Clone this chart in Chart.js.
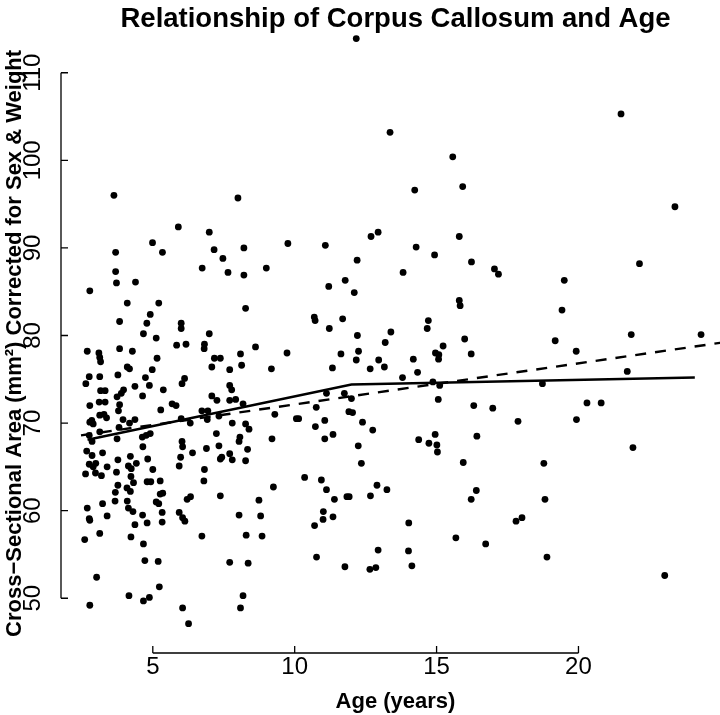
<!DOCTYPE html>
<html>
<head>
<meta charset="utf-8">
<script src="https://cdn.jsdelivr.net/npm/chart.js@4"></script>
<style>
  html, body { margin: 0; padding: 0; background: #fff; overflow: hidden; width: 720px; height: 715px; }
</style>
</head>
<body>
<!-- the original plot region runs a little past the right edge of the image,
     so the canvas is 14px wider than the window and gets cropped -->
<canvas id="ccChart" width="734" height="715"></canvas>
<script>
// Age (years) and corpus callosum area (mm^2)
const ages = [
  4.10, 5.21, 4.91, 3.83, 4.79, 4.67, 5.12, 2.69, 3.10, 3.13, 3.16, 3.83, 4.28, 5.15, 4.10, 4.18,
  4.98, 3.77, 3.13, 2.76, 4.74, 2.64, 4.37, 4.88, 5.37, 3.16, 3.32, 3.97, 3.89, 3.74, 4.64, 3.11,
  3.32, 2.78, 3.83, 3.79, 5.28, 5.68, 5.82, 3.13, 3.28, 3.37, 2.85, 2.90, 2.78, 3.95, 4.18, 4.37,
  3.81, 3.13, 2.76, 3.74, 4.63, 4.77, 4.91, 2.86, 2.67, 2.86, 3.23, 3.77, 4.21, 4.82, 4.65, 2.76,
  2.90, 2.99, 2.98, 3.19, 3.39, 2.63, 3.72, 4.14, 4.24, 4.42, 5.00, 4.23, 4.32, 3.77, 3.68, 4.09,
  4.21, 4.80, 4.93, 5.26, 5.35, 5.26, 3.67, 4.10, 5.12, 5.21, 3.23, 2.69, 4.14, 4.30, 3.39, 2.76,
  2.78, 4.64, 4.80, 4.37, 5.33, 5.33, 3.13, 2.60, 4.23, 4.67, 4.72, 5.19, 3.02, 5.23, 4.16, 4.88,
  4.67, 2.78, 6.00, 6.00, 6.17, 5.84, 6.82, 6.81, 6.99, 7.17, 7.38, 7.08, 7.71, 8.09, 8.13, 8.27,
  8.62, 9.73, 9.18, 6.12, 6.03, 7.71, 7.78, 7.08, 7.26, 7.71, 7.92, 8.18, 6.73, 6.94, 6.00, 6.32,
  6.92, 7.33, 7.80, 8.27, 8.39, 9.30, 10.06, 9.20, 7.24, 7.33, 8.07, 8.04, 8.34, 6.89, 6.03, 6.05,
  6.40, 5.98, 5.93, 7.38, 7.43, 7.71, 7.80, 8.27, 6.82, 6.80, 10.35, 9.25, 7.38, 6.33, 6.21, 8.74,
  8.80, 8.04, 5.93, 6.05, 6.13, 6.73, 8.29, 8.85, 7.71, 8.36, 8.18, 8.09, 6.05, 6.26,
  15.80, 15.83, 10.69, 10.72, 11.69, 11.22, 14.71, 14.67, 12.21, 13.39, 13.19, 15.99, 15.23, 12.25,
  11.63, 14.96, 15.08, 15.07, 16.22, 12.17, 12.96, 14.18, 11.33, 12.66, 13.16, 14.33, 13.80, 11.12,
  11.75, 12.00, 14.87, 15.11, 15.06, 18.73, 10.76, 11.91, 12.04, 10.14, 11.06, 10.73, 12.39, 12.75,
  16.31, 16.98, 17.87, 11.06, 11.35, 12.24, 14.37, 14.73, 14.95, 15.01, 15.03, 16.42, 12.35, 15.94,
  18.78, 10.94, 11.12, 11.40, 11.84, 11.92, 12.67, 12.90, 13.25, 16.40, 16.22, 18.82, 11.01, 11.00,
  11.35, 10.70, 14.02, 17.80, 18.01, 15.68, 16.73, 10.77, 12.94, 14.01, 11.77, 12.65, 12.86, 14.13,
  18.89, 19.42, 19.18, 19.92, 21.86, 24.32, 21.72, 20.30, 20.80, 19.93, 21.92, 23.04,
  3.63, 8.00, 5.90, 6.99, 4.99, 5.34, 7.16, 8.21, 3.69, 3.69, 3.72, 4.39, 7.47, 7.65, 6.74, 8.21,
  2.78, 9.00, 9.76,
  12.17, 13.36, 15.57, 15.92, 14.23, 21.50, 23.40, 15.80, 14.28, 12.94, 12.69, 14.93, 16.23, 11.08,
  12.20, 13.82, 11.78, 17.18, 17.04, 12.10, 11.20, 19.50, 22.15
];
const areas = [
  83.7, 83.7, 82.4, 81.6, 81.4, 80.2, 79.7, 78.2, 78.0, 77.5, 77.0, 78.5, 78.2, 77.4, 76.4, 76.2,
  76.1, 75.5, 75.3, 75.3, 75.2, 74.5, 74.2, 74.3, 73.8, 73.7, 73.7, 73.8, 73.4, 73.0, 73.1, 72.4,
  72.4, 72.0, 72.1, 71.4, 71.5, 72.2, 72.0, 70.9, 71.0, 70.6, 70.3, 69.9, 70.1, 70.4, 70.0, 70.4,
  69.5, 69.0, 68.6, 68.2, 68.4, 68.6, 68.8, 67.9, 66.8, 66.3, 66.6, 65.8, 66.2, 65.9, 67.3, 65.3,
  65.0, 65.4, 64.3, 64.0, 65.0, 64.2, 64.4, 65.1, 64.8, 65.4, 64.7, 63.9, 63.2, 62.9, 62.1, 62.6,
  62.2, 63.3, 63.3, 63.4, 62.0, 61.9, 61.1, 61.1, 61.0, 60.8, 60.8, 60.3, 60.3, 59.9, 59.4, 59.1,
  58.9, 59.5, 58.6, 58.4, 59.8, 58.7, 57.4, 56.7, 57.0, 56.2, 54.3, 54.2, 52.4, 51.3, 50.3, 50.1,
  49.7, 49.2, 81.4, 80.8, 79.0, 78.9, 79.0, 78.5, 80.2, 77.4, 77.4, 76.4, 76.1, 77.9, 76.6, 83.1,
  78.7, 78.0, 76.2, 75.1, 74.5, 74.3, 73.8, 73.1, 72.6, 72.6, 72.7, 72.2, 71.4, 71.4, 70.5, 70.0,
  70.4, 70.8, 70.0, 69.9, 69.3, 71.0, 70.5, 68.2, 68.8, 67.4, 68.4, 67.9, 67.0, 67.1, 67.9, 67.3,
  66.6, 66.1, 65.1, 65.9, 66.1, 66.5, 65.8, 65.7, 64.7, 63.4, 63.8, 62.7, 61.7, 61.6, 61.3, 61.2,
  59.4, 59.5, 59.8, 59.2, 58.8, 57.1, 57.2, 57.1, 54.1, 54.0, 50.3, 48.9, 48.9, 47.1,
  84.0, 83.4, 82.1, 81.7, 81.9, 80.8, 81.7, 80.8, 80.0, 80.4, 79.2, 79.6, 78.8, 78.2,
  77.9, 78.0, 77.8, 77.3, 77.9, 77.2, 77.2, 77.3, 76.3, 76.2, 76.4, 75.8, 75.2, 73.4,
  73.4, 72.8, 74.7, 74.3, 72.7, 74.5, 71.8, 71.3, 71.2, 70.5, 70.3, 69.6, 70.1, 69.2,
  72.0, 71.7, 70.2, 68.2, 68.7, 67.4, 68.1, 67.7, 68.7, 67.5, 66.7, 68.5, 65.4, 65.5,
  65.4, 63.5, 62.4, 61.3, 61.6, 61.6, 61.7, 62.9, 62.4, 62.3, 61.3, 61.3, 59.9, 59.0,
  59.3, 58.3, 58.6, 58.8, 59.2, 56.9, 56.2, 54.7, 55.5, 55.4, 53.6, 53.3, 53.5, 53.7,
  54.7, 82.9, 79.4, 78.2, 80.1, 80.1, 75.9, 72.3, 72.3, 70.4, 67.2, 52.6,
  96.0, 95.7, 92.4, 91.8, 90.6, 89.5, 89.8, 90.0, 89.5, 87.3, 86.0, 86.1, 88.8, 87.2, 87.7, 86.9,
  85.1, 87.7, 90.5,
  113.9, 103.2, 100.4, 97.0, 96.6, 105.3, 94.7, 91.3, 90.1, 91.8, 91.3, 89.2, 88.4, 90.3,
  88.6, 87.2, 86.3, 87.0, 87.6, 84.9, 85.6, 86.3, 88.2
];

// piecewise fit (solid) and linear fit (dashed)
const splineAges = [2.7, 12.0, 24.1];
const splineAreas = [68.1, 74.4, 75.2];
const linearAges = [2.47, 25.5];
const linearAreas = [68.6, 79.4];

const xTicks = [5, 10, 15, 20];
const yTicks = [50, 60, 70, 80, 90, 100, 110];

const FONT = "'Liberation Sans', Arial, Helvetica, sans-serif";

function toXY(xs, ys) {
  return xs.map((v, i) => ({ x: v, y: ys[i] }));
}

// R style axes: line only between first and last tick, ticks pointing inward
const rAxes = {
  id: "rAxes",
  afterDraw(chart) {
    const { ctx, chartArea, scales } = chart;
    const x = scales.x;
    const y = scales.y;
    const tick = 7;
    ctx.save();
    ctx.strokeStyle = "#000";
    ctx.lineWidth = 1.3;
    ctx.beginPath();
    // y axis
    const left = chartArea.left;
    ctx.moveTo(left, y.getPixelForValue(yTicks[0]));
    ctx.lineTo(left, y.getPixelForValue(yTicks[yTicks.length - 1]));
    yTicks.forEach((v) => {
      const py = y.getPixelForValue(v);
      ctx.moveTo(left, py);
      ctx.lineTo(left + tick, py);
    });
    // x axis
    const bottom = chartArea.bottom;
    ctx.moveTo(x.getPixelForValue(xTicks[0]), bottom);
    ctx.lineTo(x.getPixelForValue(xTicks[xTicks.length - 1]), bottom);
    xTicks.forEach((v) => {
      const px = x.getPixelForValue(v);
      ctx.moveTo(px, bottom);
      ctx.lineTo(px, bottom - tick);
    });
    ctx.stroke();
    ctx.restore();
  },
};

const ctx = document.getElementById("ccChart").getContext("2d");
new Chart(ctx, {
  type: "scatter",
  data: {
    datasets: [
      {
        data: toXY(ages, areas),
        backgroundColor: "#000",
        borderWidth: 0,
        pointRadius: 3.4,
        clip: false,
      },
      {
        data: toXY(splineAges, splineAreas),
        showLine: true,
        borderColor: "#000",
        borderWidth: 2.4,
        pointRadius: 0,
      },
      {
        data: toXY(linearAges, linearAreas),
        showLine: true,
        borderColor: "#000",
        borderWidth: 2.4,
        borderDash: [11, 9],
        pointRadius: 0,
      },
    ],
  },
  options: {
    responsive: false,
    animation: false,
    devicePixelRatio: 1,
    layout: { padding: 0 },
    plugins: {
      legend: { display: false },
      tooltip: { enabled: false },
      title: {
        display: true,
        text: "Relationship of Corpus Callosum and Age",
        fullSize: false,
        color: "#000",
        font: { family: FONT, size: 27.5, weight: "bold", lineHeight: 1 },
        padding: { top: 5.25, bottom: 1 },
      },
    },
    scales: {
      x: {
        type: "linear",
        min: 1.765,
        max: 25.34,
        grid: { display: false, drawTicks: false },
        border: { display: false },
        afterBuildTicks: (s) => {
          s.ticks = xTicks.map((v) => ({ value: v }));
        },
        afterFit: (s) => {
          s.height = 62;
        },
        ticks: {
          color: "#000",
          font: { family: FONT, size: 24 },
          padding: 0,
          maxRotation: 0,
        },
        title: {
          display: true,
          text: "Age (years)",
          color: "#000",
          font: { family: FONT, size: 22, weight: "bold", lineHeight: 1 },
          padding: { top: 0, bottom: 2.5 },
        },
      },
      y: {
        type: "linear",
        min: 43.75,
        max: 114.45,
        grid: { display: false, drawTicks: false },
        border: { display: false },
        afterBuildTicks: (s) => {
          s.ticks = yTicks.map((v) => ({ value: v }));
        },
        afterFit: (s) => {
          s.width = 61;
        },
        ticks: {
          color: "#000",
          font: { family: FONT, size: 24 },
          minRotation: 90,
          maxRotation: 90,
          crossAlign: "center",
          padding: 7.5,
        },
        title: {
          display: true,
          text: "Cross\u2212Sectional Area (mm\u00b2) Corrected for Sex & Weight",
          color: "#000",
          font: { family: FONT, size: 22, weight: "bold", lineHeight: 1 },
          padding: { top: 4, bottom: 0 },
        },
      },
    },
  },
  plugins: [rAxes],
});
</script>
</body>
</html>
